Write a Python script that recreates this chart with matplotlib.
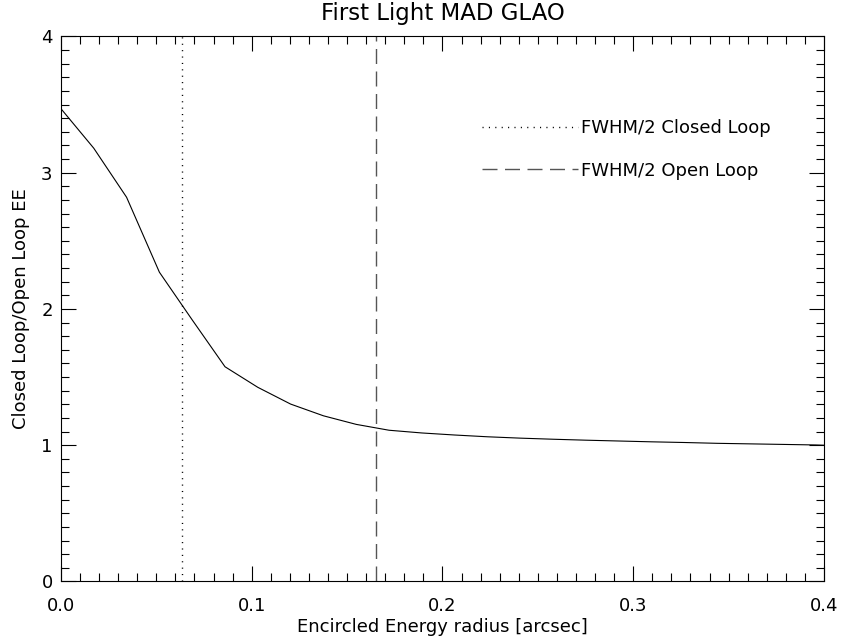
import numpy as np
import matplotlib
matplotlib.use('Agg')
from matplotlib import pyplot as plt
from matplotlib.ticker import MultipleLocator, FormatStrFormatter

# Encircled energy ratio
radius = [0.0, 0.0172, 0.0344, 0.0516, 0.0688, 0.086, 0.1032, 0.1204, 0.1376,
          0.1548, 0.172, 0.1892, 0.2064, 0.2236, 0.2408, 0.258, 0.2752,
          0.2924, 0.3096, 0.3268, 0.344, 0.3612, 0.3784, 0.3956, 0.4]
ee_ratio = [3.47, 3.18, 2.82, 2.27, 1.92, 1.576, 1.425, 1.302, 1.216,
            1.153, 1.11, 1.09, 1.075, 1.062, 1.052, 1.044, 1.037,
            1.031, 1.025, 1.02, 1.014, 1.01, 1.006, 1.002, 1.0]

fwhm_closed = 0.0636
fwhm_open = 0.165

plt.rcParams['font.family'] = ['DejaVu Sans']

fig = plt.figure(figsize=(8.42, 6.38), dpi=100)
ax = fig.add_axes([0.0724, 0.0886, 0.9062, 0.8542])

ax.plot(radius, ee_ratio, color='black', lw=0.8)
ax.axvline(fwhm_closed, color='black', lw=1.0, dashes=(0.8, 3.8),
           label='FWHM/2 Closed Loop')
ax.axvline(fwhm_open, color='#555555', lw=1.0, dashes=(10.8, 5.4),
           label='FWHM/2 Open Loop')

ax.set_xlim(0, 0.4)
ax.set_ylim(0, 4)
ax.xaxis.set_major_locator(MultipleLocator(0.1))
ax.xaxis.set_minor_locator(MultipleLocator(0.01))
ax.yaxis.set_major_locator(MultipleLocator(1))
ax.yaxis.set_minor_locator(MultipleLocator(0.1))
ax.xaxis.set_major_formatter(FormatStrFormatter('%.1f'))
ax.yaxis.set_major_formatter(FormatStrFormatter('%d'))

ax.tick_params(which='both', direction='in', top=True, right=True,
               width=0.8, labelsize=13)
ax.tick_params(which='major', length=11)
ax.tick_params(which='minor', length=5.5)
ax.tick_params(axis='x', pad=11)
ax.tick_params(axis='y', pad=6)
for s in ax.spines.values():
    s.set_linewidth(0.8)

ax.set_title('First Light MAD GLAO', fontsize=16.5, pad=12)
ax.set_xlabel('Encircled Energy radius [arcsec]', fontsize=13, labelpad=2)
ax.set_ylabel('Closed Loop/Open Loop EE', fontsize=13, labelpad=8)

ax.legend(loc='upper left', bbox_to_anchor=(0.552, 0.848), frameon=False,
          fontsize=13, handlelength=5.3, handletextpad=0.2, labelspacing=1.35,
          borderpad=0, borderaxespad=0)

fig.savefig('out.png', dpi=100)
